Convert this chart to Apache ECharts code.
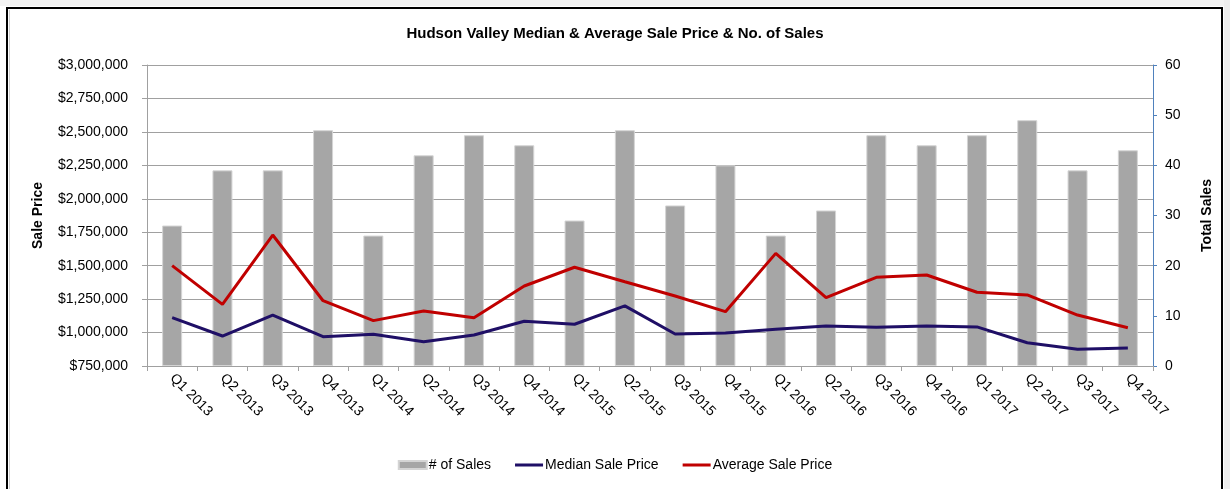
<!DOCTYPE html>
<html>
<head>
<meta charset="utf-8">
<script src="https://cdn.jsdelivr.net/npm/echarts@6/dist/echarts.min.js"></script>
<style>
html,body{margin:0;padding:0;background:#fff;}
#chart{width:1230px;height:489px;}
</style>
</head>
<body>
<div id="chart"></div>
<script>
var categories = ['Q1 2013','Q2 2013','Q3 2013','Q4 2013','Q1 2014','Q2 2014','Q3 2014','Q4 2014','Q1 2015','Q2 2015','Q3 2015','Q4 2015','Q1 2016','Q2 2016','Q3 2016','Q4 2016','Q1 2017','Q2 2017','Q3 2017','Q4 2017'];
var numSales = [28,39,39,47,26,42,46,44,29,47,32,40,26,31,46,44,46,49,39,43];
var medianPrice = [1111000,974000,1131000,969000,987000,932000,982000,1084000,1062000,1199000,989000,997000,1024000,1049000,1039000,1049000,1042000,924000,875000,885000];
var averagePrice = [1500000,1211000,1729000,1238000,1089000,1161000,1111000,1348000,1488000,1380000,1273000,1156000,1592000,1261000,1413000,1430000,1301000,1281000,1131000,1036000];
var titleText = 'Hudson Valley Median & Average Sale Price & No. of Sales';
var seriesNames = ['# of Sales','Median Sale Price','Average Sale Price'];

var FONT = 'Liberation Sans';
var chart = echarts.init(document.getElementById('chart'), null, {renderer:'canvas'});
function money(v){ return '$' + v.toString().replace(/\B(?=(\d{3})+(?!\d))/g, ','); }
var barIcon = 'path://M0,0H28V8H0Z';
var lineIcon = 'path://M0,0H0.01V0.01H0Z M0,2.5H28V5.5H0Z M27.99,7.99H28V8H27.99Z';

chart.setOption({
  backgroundColor:'#fff',
  animation:false,
  title:{text:titleText,left:'center',top:21,textStyle:{fontFamily:FONT,fontSize:15,fontWeight:'bold',color:'#000'}},
  grid:{left:147,right:77,top:65,bottom:123,containLabel:false},
  legend:{
    bottom:12,left:'center',itemWidth:28,itemHeight:8,itemGap:24,
    textStyle:{fontFamily:FONT,fontSize:14,color:'#000',padding:[0,0,0,-3]},
    data:[
      {name:seriesNames[0],icon:barIcon},
      {name:seriesNames[1],icon:lineIcon},
      {name:seriesNames[2],icon:lineIcon}
    ]
  },
  xAxis:{
    type:'category',data:categories,boundaryGap:true,
    axisLine:{lineStyle:{color:'#a0a0a0',width:1}},
    axisTick:{show:true,length:5,lineStyle:{color:'#a0a0a0'}},
    axisLabel:{rotate:-45,margin:10,fontFamily:FONT,fontSize:14,color:'#000',interval:0}
  },
  yAxis:[
    {
      type:'value',min:750000,max:3000000,interval:250000,
      name:'Sale Price',nameLocation:'middle',nameRotate:90,nameGap:102,
      nameTextStyle:{fontFamily:FONT,fontSize:14,fontWeight:'bold',color:'#000'},
      axisLine:{show:true,lineStyle:{color:'#a0a0a0'}},
      axisTick:{show:true,length:5,lineStyle:{color:'#a0a0a0'}},
      axisLabel:{formatter:money,margin:19,fontFamily:FONT,fontSize:14,color:'#000'},
      splitLine:{show:true,lineStyle:{color:'#a0a0a0',width:1}}
    },
    {
      type:'value',min:0,max:60,interval:10,position:'right',
      name:'Total Sales',nameLocation:'middle',nameRotate:90,nameGap:47,
      nameTextStyle:{fontFamily:FONT,fontSize:14,fontWeight:'bold',color:'#000'},
      axisLine:{show:true,lineStyle:{color:'#4f81bd'}},
      axisTick:{show:true,length:4,lineStyle:{color:'#4f81bd'}},
      axisLabel:{margin:12,fontFamily:FONT,fontSize:14,color:'#000'},
      splitLine:{show:false}
    }
  ],
  series:[
    {name:seriesNames[0],type:'bar',yAxisIndex:1,data:numSales,barWidth:20,
      itemStyle:{color:'#a6a6a6',borderColor:'#d4d4d4',borderWidth:1},z:1},
    {name:seriesNames[1],type:'line',yAxisIndex:0,data:medianPrice,showSymbol:false,symbol:'none',
      lineStyle:{color:'#1f0f66',width:3},itemStyle:{color:'#1f0f66'},z:3},
    {name:seriesNames[2],type:'line',yAxisIndex:0,data:averagePrice,showSymbol:false,symbol:'none',
      lineStyle:{color:'#c00000',width:3},itemStyle:{color:'#c00000'},z:4}
  ],
  graphic:[
    {type:'rect',shape:{x:7,y:8,width:1215,height:490},style:{fill:'none',stroke:'#000',lineWidth:2},silent:true,z:100},
    {type:'rect',shape:{x:9,y:10,width:1,height:480},style:{fill:'#d0d0d0'},silent:true,z:100},
    {type:'rect',shape:{x:0,y:0,width:1230,height:6},style:{fill:'#f3f3f3'},silent:true,z:100},
    {type:'rect',shape:{x:1224,y:0,width:6,height:489},style:{fill:'#eeeeee'},silent:true,z:100}
  ]
});
</script>
</body>
</html>
